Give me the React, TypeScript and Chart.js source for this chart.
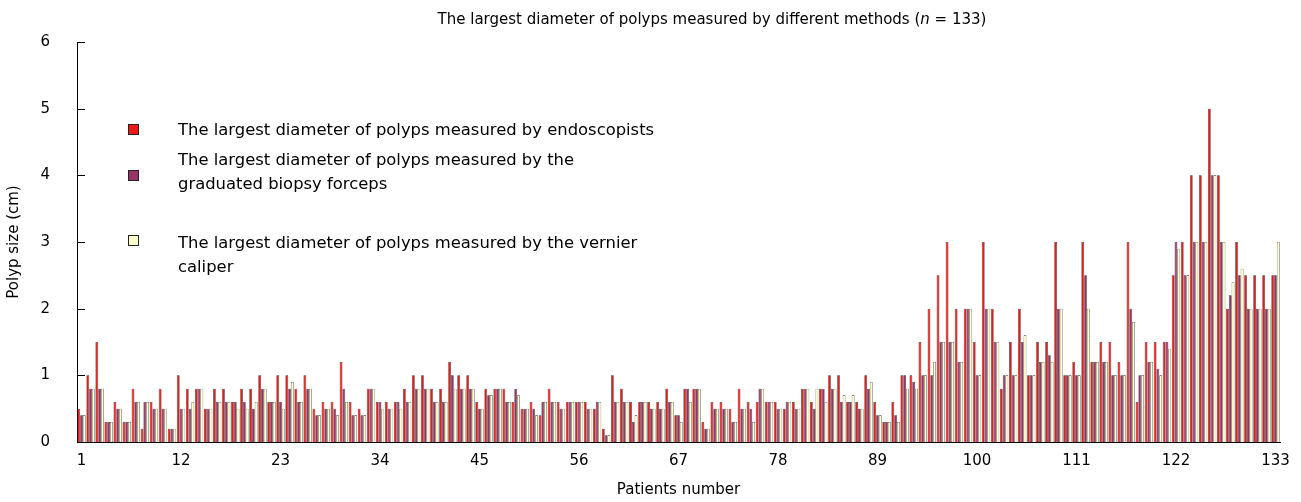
import React, { useEffect, useRef } from "react";
import { Chart, registerables } from "chart.js";

Chart.register(...registerables);

const patients: string[] = Array.from({ length: 133 }, (_, i) => String(i + 1));
const xTickLabels: string[] = ["1", "12", "23", "34", "45", "56", "67", "78", "89", "100", "111", "122", "133"];
const yTicks: number[] = [0, 1, 2, 3, 4, 5, 6];

const endoscopists: number[] = [
  0.5, 1.0, 1.5, 0.3, 0.6, 0.3, 0.8, 0.2, 0.6, 0.8,
  0.2, 1.0, 0.8, 0.8, 0.5, 0.8, 0.8, 0.6, 0.8, 0.8,
  1.0, 0.6, 1.0, 1.0, 0.8, 1.0, 0.5, 0.6, 0.6, 1.2,
  0.6, 0.5, 0.8, 0.6, 0.6, 0.6, 0.8, 1.0, 1.0, 0.8,
  0.8, 1.2, 1.0, 1.0, 0.6, 0.8, 0.8, 0.8, 0.6, 0.5,
  0.6, 0.4, 0.8, 0.6, 0.6, 0.6, 0.6, 0.5, 0.2, 1.0,
  0.8, 0.6, 0.6, 0.6, 0.6, 0.8, 0.4, 0.8, 0.8, 0.3,
  0.6, 0.6, 0.5, 0.8, 0.6, 0.6, 0.6, 0.6, 0.5, 0.6,
  0.8, 0.6, 0.8, 1.0, 1.0, 0.6, 0.6, 1.0, 0.6, 0.3,
  0.6, 1.0, 1.0, 1.5, 2.0, 2.5, 3.0, 2.0, 2.0, 1.5,
  3.0, 2.0, 0.8, 1.5, 2.0, 1.0, 1.5, 1.5, 3.0, 1.0,
  1.2, 3.0, 1.2, 1.5, 1.5, 1.2, 3.0, 0.6, 1.5, 1.5,
  1.5, 2.5, 3.0, 4.0, 4.0, 5.0, 4.0, 2.0, 3.0, 2.5,
  2.5, 2.5, 2.5,
];

const forceps: number[] = [
  0.4, 0.8, 0.8, 0.3, 0.5, 0.3, 0.6, 0.6, 0.5, 0.5,
  0.2, 0.5, 0.5, 0.8, 0.5, 0.6, 0.6, 0.6, 0.6, 0.5,
  0.8, 0.6, 0.6, 0.8, 0.6, 0.8, 0.4, 0.5, 0.5, 0.8,
  0.4, 0.4, 0.8, 0.6, 0.5, 0.6, 0.6, 0.8, 0.8, 0.6,
  0.6, 1.0, 0.8, 0.8, 0.5, 0.7, 0.8, 0.6, 0.8, 0.5,
  0.5, 0.6, 0.6, 0.5, 0.6, 0.6, 0.5, 0.6, 0.1, 0.6,
  0.6, 0.3, 0.6, 0.5, 0.5, 0.6, 0.4, 0.8, 0.8, 0.2,
  0.5, 0.5, 0.3, 0.5, 0.5, 0.8, 0.6, 0.5, 0.6, 0.5,
  0.8, 0.5, 0.8, 0.8, 0.6, 0.6, 0.5, 0.8, 0.4, 0.3,
  0.4, 1.0, 0.9, 1.0, 1.0, 1.5, 1.5, 1.2, 2.0, 1.0,
  2.0, 1.5, 1.0, 1.0, 1.5, 1.0, 1.2, 1.3, 2.0, 1.0,
  1.0, 2.5, 1.2, 1.2, 1.0, 1.0, 2.0, 1.0, 1.2, 1.1,
  1.5, 3.0, 2.5, 3.0, 3.0, 4.0, 3.0, 2.2, 2.5, 2.0,
  2.0, 2.0, 2.5,
];

const caliper: number[] = [
  0.4, 0.8, 0.8, 0.3, 0.5, 0.3, 0.6, 0.6, 0.5, 0.5,
  0.2, 0.5, 0.6, 0.8, 0.5, 0.6, 0.6, 0.5, 0.5, 0.6,
  0.8, 0.6, 0.5, 0.9, 0.6, 0.8, 0.4, 0.5, 0.4, 0.6,
  0.4, 0.4, 0.8, 0.5, 0.5, 0.5, 0.6, 0.8, 0.8, 0.6,
  0.6, 0.8, 0.8, 0.8, 0.5, 0.7, 0.8, 0.6, 0.7, 0.5,
  0.4, 0.6, 0.6, 0.5, 0.6, 0.6, 0.5, 0.6, 0.1, 0.6,
  0.6, 0.4, 0.6, 0.5, 0.5, 0.6, 0.3, 0.6, 0.8, 0.2,
  0.5, 0.5, 0.3, 0.5, 0.3, 0.8, 0.6, 0.5, 0.6, 0.5,
  0.8, 0.8, 0.6, 0.8, 0.7, 0.7, 0.5, 0.9, 0.4, 0.3,
  0.3, 0.8, 0.8, 1.0, 1.2, 1.5, 1.5, 1.2, 2.0, 1.0,
  2.0, 1.5, 1.0, 1.0, 1.6, 1.0, 1.2, 1.2, 2.0, 1.0,
  1.0, 2.0, 1.2, 1.2, 1.0, 1.0, 1.8, 1.0, 1.2, 1.0,
  1.4, 2.9, 2.5, 3.0, 3.0, 4.0, 3.0, 2.4, 2.6, 2.0,
  2.0, 2.0, 3.0,
];

const seriesNames: string[] = [
  "The largest diameter of polyps measured by endoscopists",
  "The largest diameter of polyps measured by the graduated biopsy forceps",
  "The largest diameter of polyps measured by the vernier caliper",
];
const seriesColors: string[] = ["#ec1a16", "#993366", "#ffffcc"];

const FONT = "'DejaVu Sans', Verdana, sans-serif";

const inwardTicks = {
  id: "inwardTicks",
  afterDraw(chart: any) {
    const ctx = chart.ctx;
    const y = chart.scales.y;
    const left = chart.chartArea.left;
    ctx.save();
    ctx.strokeStyle = "#000";
    ctx.lineWidth = 1;
    y.ticks.forEach((t: any) => {
      const py = Math.round(y.getPixelForValue(t.value)) + 0.5;
      ctx.beginPath();
      ctx.moveTo(left, py);
      ctx.lineTo(left + 8, py);
      ctx.stroke();
    });
    ctx.restore();
  },
};

export default function App() {
  const ref = useRef<HTMLCanvasElement | null>(null);

  useEffect(() => {
    document.body.style.margin = "0";
    if (!ref.current) return;
    const mk = (i: number, data: number[]) => ({
      label: seriesNames[i],
      data,
      backgroundColor: seriesColors[i],
      borderColor: "#2a2a2a",
      borderWidth: 0.6,
      categoryPercentage: 0.92,
      barPercentage: 1.0,
    });
    const chart = new Chart(ref.current, {
      type: "bar",
      data: {
        labels: patients,
        datasets: [mk(0, endoscopists), mk(1, forceps), mk(2, caliper)],
      },
      options: {
        responsive: false,
        animation: false,
        layout: { padding: { left: 0, right: 21, top: 42, bottom: 0 } },
        plugins: {
          legend: { display: false },
          tooltip: { enabled: false },
          title: { display: false },
        },
        scales: {
          x: {
            grid: { display: false, drawTicks: false },
            border: { display: true, color: "#000", width: 1 },
            ticks: {
              autoSkip: false,
              maxRotation: 0,
              minRotation: 0,
              padding: 10,
              color: "#000",
              font: { family: FONT, size: 15 },
              callback: (_v: any, idx: number) =>
                xTickLabels.includes(patients[idx]) ? patients[idx] : "",
            },
            title: {
              display: true,
              text: "Patients number",
              color: "#000",
              font: { family: FONT, size: 15 },
              padding: { top: 0, bottom: 3 },
            },
            afterFit: (s: any) => {
              s.height = 60;
            },
          },
          y: {
            min: 0,
            max: 6,
            afterBuildTicks: (s: any) => {
              s.ticks = yTicks.map((v) => ({ value: v }));
            },
            grid: { display: false, drawTicks: false },
            border: { display: true, color: "#000", width: 1 },
            ticks: {
              padding: 27,
              color: "#000",
              font: { family: FONT, size: 15 },
            },
            title: {
              display: true,
              text: "Polyp size (cm)",
              color: "#000",
              font: { family: FONT, size: 15 },
              padding: { top: 5, bottom: 0 },
            },
            afterFit: (s: any) => {
              s.width = 77;
            },
          },
        },
      },
      plugins: [inwardTicks],
    });
    return () => chart.destroy();
  }, []);

  const sq = (c: string, top: number) => (
    <div
      style={{
        position: "absolute",
        left: 128,
        top,
        width: 9,
        height: 9,
        background: c,
        border: "1px solid #222",
      }}
    />
  );
  const txt = (top: number, lines: string[]) => (
    <div
      style={{
        position: "absolute",
        left: 178,
        top,
        fontFamily: FONT,
        fontSize: 16.4,
        lineHeight: "24px",
        color: "#000",
        whiteSpace: "nowrap",
      }}
    >
      {lines.map((l, i) => (
        <div key={i}>{l}</div>
      ))}
    </div>
  );

  return (
    <div style={{ position: "relative", width: 1301, height: 502, background: "#fff" }}>
      <canvas ref={ref} width={1301} height={502} style={{ display: "block" }} />
      <div
        style={{
          position: "absolute",
          left: 712,
          top: 10,
          transform: "translateX(-50%)",
          fontFamily: FONT,
          fontSize: 15,
          whiteSpace: "nowrap",
          color: "#000",
        }}
      >
        The largest diameter of polyps measured by different methods (<i>n</i> = 133)
      </div>
      {sq(seriesColors[0], 124)}
      {sq(seriesColors[1], 170)}
      {sq(seriesColors[2], 235)}
      {txt(118, ["The largest diameter of polyps measured by endoscopists"])}
      {txt(148, ["The largest diameter of polyps measured by the", "graduated biopsy forceps"])}
      {txt(231, ["The largest diameter of polyps measured by the vernier", "caliper"])}
    </div>
  );
}
